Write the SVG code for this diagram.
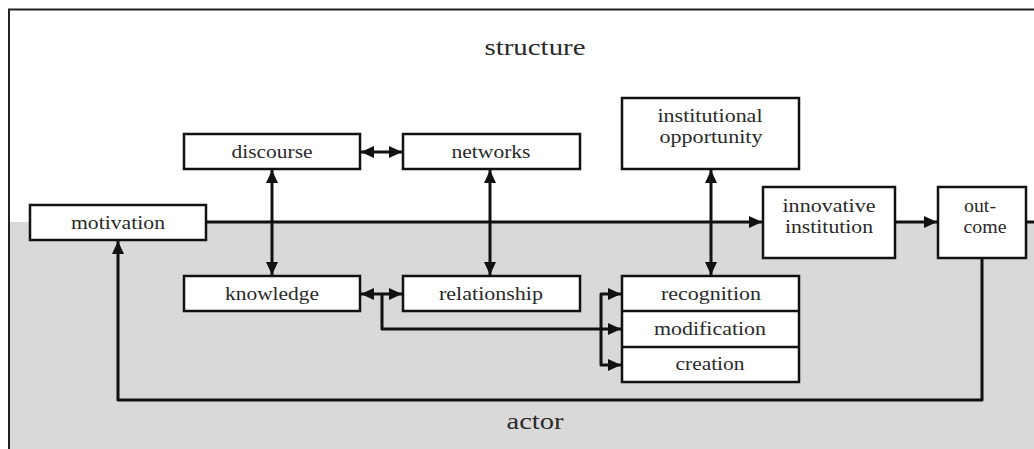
<svg xmlns="http://www.w3.org/2000/svg" width="1034" height="449" viewBox="0 0 1034 449">
<defs>
<style>
.box{fill:#fff;stroke:#111;stroke-width:2.5}
.ln{fill:none;stroke:#111;stroke-width:3;stroke-linejoin:round}
text{font-family:'Liberation Serif','Times New Roman',Times,serif;fill:#2a2a2a;text-anchor:middle}
.t{font-size:18px}
.big{font-size:23px}
</style>
<marker id="ah" markerUnits="userSpaceOnUse" markerWidth="14" markerHeight="12" refX="13" refY="6" orient="auto-start-reverse" viewBox="0 0 14 12">
<path d="M0,0 L13,6 L0,12 z" fill="#111"/>
</marker>
</defs>
<rect x="0" y="0" width="1034" height="449" fill="#fff"/>
<rect x="9" y="222" width="1025" height="227" fill="#d9d9d9"/>
<path d="M9,449 V9.5 H1034" fill="none" stroke="#222" stroke-width="2"/>
<text class="big" x="535" y="55" textLength="101" lengthAdjust="spacingAndGlyphs">structure</text>
<text class="big" x="535" y="429" textLength="57" lengthAdjust="spacingAndGlyphs">actor</text>
<g id="connectors">
<line class="ln" x1="206" y1="222" x2="762" y2="222" marker-end="url(#ah)"/>
<line class="ln" x1="895" y1="222" x2="937" y2="222" marker-end="url(#ah)"/>
<line class="ln" x1="1026" y1="222" x2="1034" y2="222"/>
<line class="ln" x1="361" y1="152" x2="402" y2="152" marker-start="url(#ah)" marker-end="url(#ah)"/>
<line class="ln" x1="361" y1="294" x2="402" y2="294" marker-start="url(#ah)" marker-end="url(#ah)"/>
<line class="ln" x1="272" y1="170" x2="272" y2="275" marker-start="url(#ah)" marker-end="url(#ah)"/>
<line class="ln" x1="490" y1="170" x2="490" y2="275" marker-start="url(#ah)" marker-end="url(#ah)"/>
<line class="ln" x1="711" y1="170" x2="711" y2="275" marker-start="url(#ah)" marker-end="url(#ah)"/>
<path class="ln" d="M382,294 V329 H621" marker-end="url(#ah)"/>
<path class="ln" d="M601,329 V294 H621" marker-end="url(#ah)"/>
<path class="ln" d="M601,329 V365 H621" marker-end="url(#ah)"/>
<path class="ln" d="M982,259 V400 H118 V241" marker-end="url(#ah)"/>
</g>
<g id="motivation"><rect class="box" x="30" y="205" width="176" height="35"/><text class="t" x="118" y="229" textLength="94" lengthAdjust="spacingAndGlyphs">motivation</text></g>
<g id="discourse"><rect class="box" x="184" y="134" width="176" height="35"/><text class="t" x="272" y="158" textLength="81" lengthAdjust="spacingAndGlyphs">discourse</text></g>
<g id="networks"><rect class="box" x="403" y="134" width="177" height="35"/><text class="t" x="491" y="158" textLength="79" lengthAdjust="spacingAndGlyphs">networks</text></g>
<g id="knowledge"><rect class="box" x="184" y="276" width="176" height="35"/><text class="t" x="272" y="300" textLength="94" lengthAdjust="spacingAndGlyphs">knowledge</text></g>
<g id="relationship"><rect class="box" x="403" y="276" width="177" height="35"/><text class="t" x="491" y="300" textLength="104" lengthAdjust="spacingAndGlyphs">relationship</text></g>
<g id="institutional-opportunity"><rect class="box" x="622" y="98" width="177" height="71"/><text class="t" x="710" y="122" textLength="105" lengthAdjust="spacingAndGlyphs">institutional</text><text class="t" x="711" y="143" textLength="103" lengthAdjust="spacingAndGlyphs">opportunity</text></g>
<g id="innovative-institution"><rect class="box" x="763" y="187" width="132" height="71"/><text class="t" x="829" y="212" textLength="93" lengthAdjust="spacingAndGlyphs">innovative</text><text class="t" x="829" y="233" textLength="88" lengthAdjust="spacingAndGlyphs">institution</text></g>
<g id="outcome"><rect class="box" x="938" y="187" width="88" height="71"/><text class="t" x="980" y="212" textLength="32" lengthAdjust="spacingAndGlyphs">out-</text><text class="t" x="985" y="233" textLength="43" lengthAdjust="spacingAndGlyphs">come</text></g>
<g id="recognition-stack">
<rect class="box" x="622" y="276" width="177" height="106"/>
<line x1="622" y1="311" x2="799" y2="311" stroke="#111" stroke-width="2.5"/>
<line x1="622" y1="347" x2="799" y2="347" stroke="#111" stroke-width="2.5"/>
<text class="t" x="711" y="300" textLength="100" lengthAdjust="spacingAndGlyphs">recognition</text>
<text class="t" x="710" y="335" textLength="112" lengthAdjust="spacingAndGlyphs">modification</text>
<text class="t" x="710" y="370" textLength="69" lengthAdjust="spacingAndGlyphs">creation</text>
</g>
</svg>
